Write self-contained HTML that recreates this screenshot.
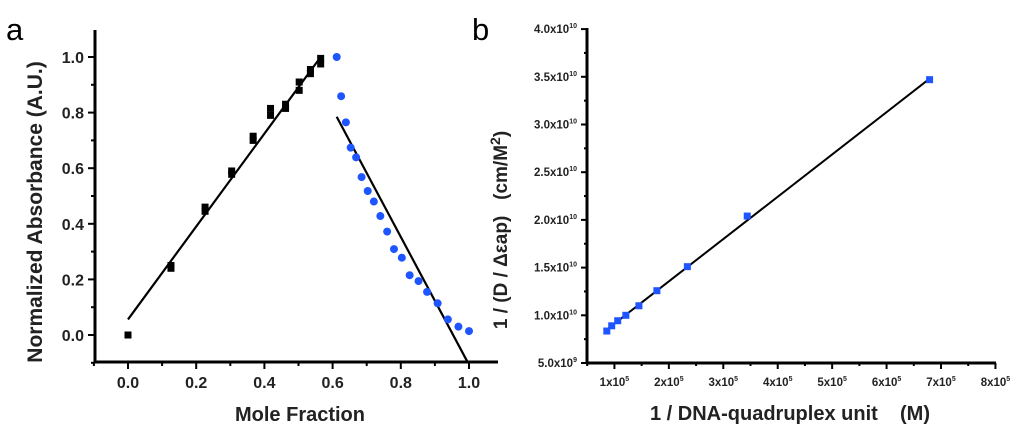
<!DOCTYPE html>
<html><head><meta charset="utf-8">
<style>
html,body{margin:0;padding:0;background:#fff;}
svg{display:block;font-family:"Liberation Sans",Arial,sans-serif;}
text{white-space:pre;}
</style></head>
<body>
<svg id="chart" width="1024" height="435" viewBox="0 0 1024 435" xmlns="http://www.w3.org/2000/svg">
<text x="6" y="40" font-size="31">a</text>
<text x="472" y="40" font-size="31">b</text>
<g id="pa"></g>
<g id="pb"></g>
</svg>
<script>
// ---- Panel a data ----
const aBlackX = [0.0, 0.126, 0.126, 0.226, 0.226, 0.304, 0.304, 0.367, 0.367, 0.418, 0.418, 0.462, 0.462, 0.502, 0.502, 0.535, 0.535, 0.565, 0.565];
const aBlackY = [0.0, 0.24, 0.25, 0.445, 0.46, 0.578, 0.59, 0.70, 0.715, 0.79, 0.815, 0.815, 0.83, 0.88, 0.91, 0.94, 0.955, 0.975, 0.995];
const aBlueX = [0.612, 0.625, 0.639, 0.653, 0.669, 0.685, 0.703, 0.721, 0.740, 0.760, 0.780, 0.803, 0.826, 0.852, 0.877, 0.908, 0.938, 0.969, 1.0];
const aBlueY = [1.0, 0.859, 0.765, 0.674, 0.639, 0.568, 0.518, 0.480, 0.428, 0.372, 0.309, 0.278, 0.215, 0.194, 0.155, 0.114, 0.056, 0.030, 0.014];
const aFit1 = [[0.0, 0.056], [0.565, 1.0]];
const aFit2 = [[0.612, 0.785], [0.997, -0.1]];
const aXTicks = [0.0, 0.2, 0.4, 0.6, 0.8, 1.0];
const aXTickLabels = ["0.0", "0.2", "0.4", "0.6", "0.8", "1.0"];
const aYTicks = [0.0, 0.2, 0.4, 0.6, 0.8, 1.0];
const aYTickLabels = ["0.0", "0.2", "0.4", "0.6", "0.8", "1.0"];
// ---- Panel b data (x in 1e5, y in 1e9) ----
const bX = [0.86, 0.95, 1.06, 1.21, 1.45, 1.78, 2.34, 3.44, 6.79];
const bY = [8.35, 8.9, 9.43, 10.0, 11.0, 12.58, 15.1, 20.4, 34.7];
const bFit = [[0.86, 8.5], [6.79, 34.8]];
const bXTicks = [1, 2, 3, 4, 5, 6, 7, 8];
const bXTickMant = ["1", "2", "3", "4", "5", "6", "7", "8"];
const bYTicks = [5, 10, 15, 20, 25, 30, 35, 40];
const bYTickMant = ["5.0", "1.0", "1.5", "2.0", "2.5", "3.0", "3.5", "4.0"];
const bYTickExp = ["9", "10", "10", "10", "10", "10", "10", "10"];

const NS = "http://www.w3.org/2000/svg";
function mk(parent, tag, attrs, text) {
  const e = document.createElementNS(NS, tag);
  for (const k in attrs) e.setAttribute(k, attrs[k]);
  if (text !== undefined) e.textContent = text;
  parent.appendChild(e);
  return e;
}

// Panel a scales
const ax = v => 128 + v * 341;
const ay = v => 335 - v * 278;
const pa = document.getElementById('pa');
let el;
el = mk(pa, 'line', {x1: 95, y1: 30, x2: 95, y2: 362, stroke: '#000', 'stroke-width': 3});


el = mk(pa, 'line', {x1: 94, y1: 362, x2: 498, y2: 362, stroke: '#000', 'stroke-width': 3});


for (let v = -0.1; v <= 1.051; v += 0.1) {
  const x = ax(v), major = Math.abs(Math.round(v * 10) % 2) === 0;
  el = mk(pa, 'line', {x1: x, y1: 362, x2: x, y2: major ? 369 : 366, stroke: '#000', 'stroke-width': 2});
  
  
}
for (let v = -0.1; v <= 1.051; v += 0.1) {
  const y = ay(v), major = Math.abs(Math.round(v * 10) % 2) === 0;
  el = mk(pa, 'line', {x1: 95, y1: y, x2: major ? 88 : 91, y2: y, stroke: '#000', 'stroke-width': 2});
  
  
}
aXTicks.forEach((v, i) => {
  el = mk(pa, 'text', {x: ax(v), y: 388, 'font-size': 16, 'font-weight': 'bold', 'text-anchor': 'middle', fill: '#222'}, aXTickLabels[i]);
  
  
});
aYTicks.forEach((v, i) => {
  el = mk(pa, 'text', {x: 84, y: ay(v) + 6, 'font-size': 16, 'font-weight': 'bold', 'text-anchor': 'end', fill: '#222'}, aYTickLabels[i]);
  
  
});
el = mk(pa, 'text', {x: 300, y: 421, 'font-size': 20, 'font-weight': 'bold', 'text-anchor': 'middle', fill: '#222'}, 'Mole Fraction');


el = mk(pa, 'text', {x: 0, y: 0, 'font-size': 21, 'font-weight': 'bold', 'text-anchor': 'middle', fill: '#222', transform: 'translate(42,212) rotate(-90)'}, 'Normalized Absorbance (A.U.)');


[aFit1, aFit2].forEach(f => {
  el = mk(pa, 'line', {x1: ax(f[0][0]), y1: ay(f[0][1]), x2: ax(f[1][0]), y2: ay(f[1][1]), stroke: '#000', 'stroke-width': 2.2});
  
  
});
aBlackX.forEach((v, i) => {
  el = mk(pa, 'rect', {x: ax(v) - 3.5, y: ay(aBlackY[i]) - 3.5, width: 7, height: 7, fill: '#000'});
  
  
});
aBlueX.forEach((v, i) => {
  el = mk(pa, 'circle', {cx: ax(v), cy: ay(aBlueY[i]), r: 4, fill: '#1f55ff'});
  
  
});

// Panel b scales
const bx = v => 560 + v * 54.43;
const by = v => 363 - (v - 5) * 9.54;
const pb = document.getElementById('pb');
el = mk(pb, 'line', {x1: 587, y1: 28, x2: 587, y2: 363, stroke: '#000', 'stroke-width': 3});


el = mk(pb, 'line', {x1: 586, y1: 363, x2: 996, y2: 363, stroke: '#000', 'stroke-width': 3});


for (let v = 0.5; v <= 8.01; v += 0.5) {
  const x = bx(v), major = Math.abs(v - Math.round(v)) < 0.01;
  el = mk(pb, 'line', {x1: x, y1: 363, x2: x, y2: major ? 369 : 366, stroke: '#000', 'stroke-width': 2});
  
  
}
for (let v = 5; v <= 40.01; v += 2.5) {
  const y = by(v), major = Math.abs(v / 5 - Math.round(v / 5)) < 0.01;
  el = mk(pb, 'line', {x1: 587, y1: y, x2: major ? 581 : 584, y2: y, stroke: '#000', 'stroke-width': 2});
  
  
}
bXTicks.forEach((v, i) => {
  const t = mk(pb, 'text', {x: bx(v), y: 386, 'font-size': 11.5, 'font-weight': 'bold', 'text-anchor': 'middle', fill: '#222'});
  
  
  mk(t, 'tspan', {}, bXTickMant[i] + 'x10');
  mk(t, 'tspan', {dy: -5, 'font-size': 7}, '5');
});
bYTicks.forEach((v, i) => {
  const t = mk(pb, 'text', {x: 577, y: by(v) + 4, 'font-size': 11.5, 'font-weight': 'bold', 'text-anchor': 'end', fill: '#222'});
  
  
  mk(t, 'tspan', {}, bYTickMant[i] + 'x10');
  mk(t, 'tspan', {dy: -5, 'font-size': 7}, bYTickExp[i]);
});
el = mk(pb, 'text', {x: 790, y: 420, 'font-size': 20, 'font-weight': 'bold', 'text-anchor': 'middle', fill: '#222'}, '1 / DNA-quadruplex unit\u00a0\u00a0\u00a0\u00a0(M)');


const yt = mk(pb, 'text', {x: 0, y: 0, 'font-size': 19, 'font-weight': 'bold', 'text-anchor': 'middle', fill: '#222', transform: 'translate(507,230) rotate(-90)'});


mk(yt, 'tspan', {}, '1 / (D / \u0394\u03b5ap)\u00a0\u00a0\u00a0(cm/M');
mk(yt, 'tspan', {dy: -7, 'font-size': 14}, '2');
mk(yt, 'tspan', {dy: 7}, ')');
el = mk(pb, 'line', {x1: bx(bFit[0][0]), y1: by(bFit[0][1]), x2: bx(bFit[1][0]), y2: by(bFit[1][1]), stroke: '#000', 'stroke-width': 2});


bX.forEach((v, i) => {
  el = mk(pb, 'rect', {x: bx(v) - 3.5, y: by(bY[i]) - 3.5, width: 7, height: 7, fill: '#1f55ff'});
  
  
});
</script>
</body></html>
